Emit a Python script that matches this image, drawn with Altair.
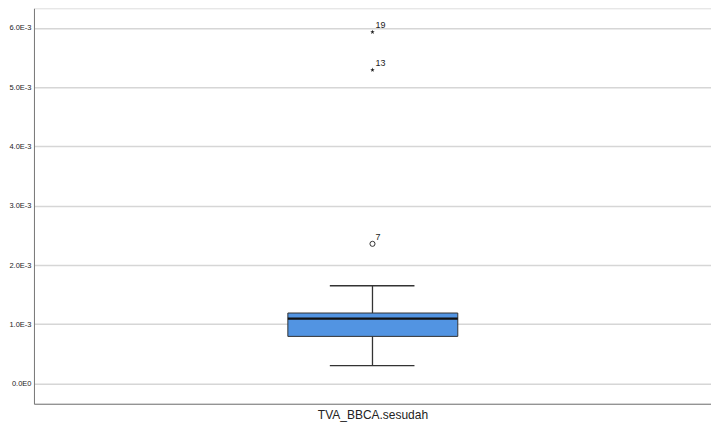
import altair as alt
import pandas as pd

# --- data ---
category = ["TVA_BBCA.sesudah"]
whisker_low = [0.000303]
q1 = [0.000796]
median = [0.001094]
q3 = [0.00119]
whisker_high = [0.00165]
outlier_ids = ["7", "13", "19"]
outlier_values = [0.002357, 0.00529, 0.00593]
outlier_kinds = ["circle", "star", "star"]
y_ticks = [0.0, 0.001, 0.002, 0.003, 0.004, 0.005, 0.006]

FONT = "Liberation Sans"
STAR = ("M0,-1L0.235,-0.324L0.951,-0.309L0.38,0.124L0.588,0.809L0,0.4"
        "L-0.588,0.809L-0.38,0.124L-0.951,-0.309L-0.235,-0.324Z")

box = pd.DataFrame({
    "cat": category, "lo": whisker_low, "q1": q1, "med": median,
    "q3": q3, "hi": whisker_high,
    "c": [0.5], "bx1": [0.375], "bx2": [0.626], "cx1": [0.437], "cx2": [0.562],
})
out = pd.DataFrame({"id": outlier_ids, "v": outlier_values, "kind": outlier_kinds, "c": 0.5})

ydom = [-0.00034, 0.00633]
xscale = alt.Scale(domain=[0, 1])
yscale = alt.Scale(domain=ydom, nice=False, zero=False)

yaxis = alt.Axis(
    values=y_ticks, title=None, ticks=False, labelFontSize=7.5, labelColor="#222",
    labelFont=FONT, labelPadding=3, grid=True, gridColor="#d6d6d6", gridWidth=1.5,
    domainColor="#777", domainWidth=1,
    labelExpr="datum.value == 0 ? '0.0E0' : format(datum.value*1000, '.1f') + 'E-3'",
)
xaxis = alt.Axis(
    labels=False, ticks=False, grid=False, title=category[0], titleFont=FONT,
    titleFontSize=12, titleFontWeight="normal", titleColor="#222", titlePadding=6,
    domainColor="#777", domainWidth=1,
)

base = alt.Chart(box)

# invisible layer carrying axes
axes = base.mark_point(opacity=0).encode(
    x=alt.X("c:Q", scale=xscale, axis=xaxis),
    y=alt.Y("med:Q", scale=yscale, axis=yaxis),
)

whisker = base.mark_rule(color="#333", strokeWidth=1.3).encode(
    x="c:Q", y="lo:Q", y2="hi:Q"
)
cap_hi = base.mark_rule(color="#333", strokeWidth=1.3).encode(
    x="cx1:Q", x2="cx2:Q", y="hi:Q"
)
cap_lo = base.mark_rule(color="#333", strokeWidth=1.3).encode(
    x="cx1:Q", x2="cx2:Q", y="lo:Q"
)
body = base.mark_rect(fill="#5294e2", stroke="#333", strokeWidth=1).encode(
    x="bx1:Q", x2="bx2:Q", y="q1:Q", y2="q3:Q"
)
med = base.mark_rule(color="#111", strokeWidth=2.2).encode(
    x="bx1:Q", x2="bx2:Q", y="med:Q"
)

circ = alt.Chart(out).transform_filter("datum.kind == 'circle'").mark_point(
    shape="circle", size=26, filled=True, fill="white", stroke="#333", strokeWidth=1, opacity=1
).encode(x="c:Q", y="v:Q")
stars = alt.Chart(out).transform_filter("datum.kind == 'star'").mark_point(
    shape=STAR, size=22, filled=True, color="#222", opacity=1
).encode(x="c:Q", y="v:Q")
labels = alt.Chart(out).mark_text(
    align="left", baseline="middle", dx=3, dy=-7, fontSize=9, font=FONT, color="#222"
).encode(x="c:Q", y="v:Q", text="id:N")

chart = alt.layer(axes, whisker, cap_hi, cap_lo, body, med, circ, stars, labels).properties(
    width=678, height=396,
    autosize=alt.AutoSizeParams(type="none"),
    padding={"left": 26, "top": 0, "right": 0, "bottom": 24},
).configure_view(stroke=None).configure(background="white")

chart.save("out.html", embed_options={"renderer": "svg", "actions": False})
